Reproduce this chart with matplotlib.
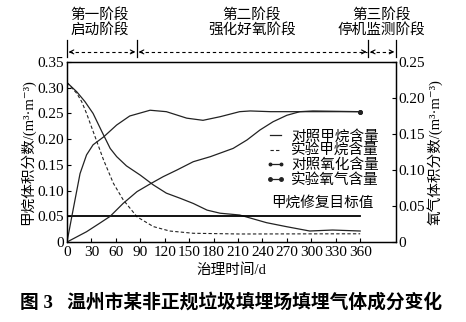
import matplotlib
matplotlib.use("Agg")
import matplotlib.pyplot as plt
import matplotlib.transforms as mtransforms
from matplotlib.lines import Line2D
from matplotlib.ticker import FuncFormatter, MultipleLocator

plt.rcParams['font.family'] = ['Liberation Serif', 'Noto Sans CJK SC', 'DejaVu Serif']
plt.rcParams['axes.unicode_minus'] = False

# 甲烷 (左轴)
ch4_ctrl_days = [0, 12, 22, 32, 43, 53, 61, 73, 90, 106, 122, 139, 155, 172, 188, 212, 245, 269, 298, 326, 360]
ch4_ctrl = [0.310, 0.292, 0.273, 0.250, 0.214, 0.182, 0.166, 0.148, 0.130, 0.111, 0.095, 0.085,
            0.075, 0.062, 0.056, 0.0525, 0.0376, 0.030, 0.0214, 0.0233, 0.0214]
ch4_exp_days = [0, 12, 18, 24, 30, 36, 45, 57, 69, 86, 106, 126, 155, 212, 280, 360]
ch4_exp = [0.310, 0.289, 0.273, 0.250, 0.224, 0.198, 0.159, 0.114, 0.082, 0.049, 0.030, 0.0214,
           0.017, 0.0156, 0.0158, 0.016]

# 氧气 (右轴)
o2_ctrl_days = [0, 24, 40, 53, 69, 86, 102, 118, 135, 155, 176, 204, 221, 237, 253, 270, 286, 302, 360]
o2_ctrl = [0, 0.0143, 0.026, 0.0357, 0.0537, 0.070, 0.0806, 0.0907, 0.100, 0.1115, 0.1185, 0.130,
           0.1417, 0.1556, 0.167, 0.176, 0.181, 0.182, 0.181]
o2_exp_days = [0, 6, 16, 24, 32, 45, 61, 77, 102, 122, 147, 167, 188, 212, 225, 250, 300, 360]
o2_exp = [0, 0.036, 0.095, 0.121, 0.135, 0.146, 0.1625, 0.175, 0.183, 0.181, 0.172, 0.169, 0.174,
          0.181, 0.182, 0.181, 0.181, 0.181]

target = 0.05
target_days = [0, 360]

stage_edges = [0, 86, 370, 404]
stage_names = ['第一阶段\n启动阶段', '第二阶段\n强化好氧阶段', '第三阶段\n停机监测阶段']
stage_text_x = [40, 227, 386]

fig = plt.figure(figsize=(4.66, 3.22), dpi=100)
ax = fig.add_axes([0.1438, 0.2484, 0.7060, 0.5591])
ax2 = ax.twinx()

lw = 0.9
ax.plot(ch4_ctrl_days, ch4_ctrl, color='#222222', lw=lw, ls='-')
ax.plot(ch4_exp_days, ch4_exp, color='#222222', lw=0.8, ls=(0, (3, 2)))
ax.plot(target_days, [target, target], color='black', lw=1.3)
ax2.plot(o2_ctrl_days, o2_ctrl, color='#222222', lw=lw, marker='o', ms=2.5, markevery=[-1])
ax2.plot(o2_exp_days, o2_exp, color='#222222', lw=lw, marker='o', ms=2.5, markevery=[-1])

ax.text(314, 0.0758, '甲烷修复目标值', fontsize=10.5, ha='center', va='center')

ax.set_xlim(0, 404)
ax.set_ylim(0, 0.35)
ax2.set_ylim(0, 0.25)
ax.set_xticks(range(0, 361, 30))
ax.yaxis.set_major_locator(MultipleLocator(0.05))
ax2.yaxis.set_major_locator(MultipleLocator(0.05))
fmt = FuncFormatter(lambda v, p: '0' if abs(v) < 1e-9 else '%.2f' % v)
ax.yaxis.set_major_formatter(fmt)
ax2.yaxis.set_major_formatter(fmt)
for a in (ax, ax2):
    a.tick_params(direction='in', length=3, width=0.8, labelsize=11, pad=2)
    for s in a.spines.values():
        s.set_linewidth(0.9)
ax.tick_params(axis='x', pad=3)

ax.set_xlabel('治理时间/d', fontsize=10.5, labelpad=3)
ax.set_ylabel('甲烷体积分数/(m³·m⁻³)', fontsize=10.5, labelpad=2)
ax2.set_ylabel('氧气体积分数/(m³·m⁻³)', fontsize=10.5, labelpad=1)

# 图例
handles = [
    Line2D([], [], color='#222222', lw=lw),
    Line2D([], [], color='#222222', lw=0.8, ls=(0, (3, 2))),
    Line2D([], [], color='#222222', lw=lw, marker='o', ms=1.8),
    Line2D([], [], color='#222222', lw=lw, marker='o', ms=2.5),
]
labels = ['对照甲烷含量', '实验甲烷含量', '对照氧化含量', '实验氧气含量']
ax.legend(handles, labels, loc='upper left', bbox_to_anchor=(0.571, 0.598),
          bbox_transform=fig.transFigure, frameon=False, fontsize=10.5, numpoints=2,
          handlelength=1.3, handletextpad=0.4, labelspacing=0.05, borderpad=0,
          borderaxespad=0)

# 阶段标注
trans = mtransforms.blended_transform_factory(ax.transData, ax.transAxes)
y_arrow = 1.056
for xe in stage_edges:
    ax.plot([xe, xe], [1.028, 1.122], transform=trans, color='black', lw=0.9, clip_on=False)
for i in range(3):
    x0, x1 = stage_edges[i] + 2, stage_edges[i + 1] - 2
    ax.plot([x0, x1], [y_arrow, y_arrow], transform=trans, color='black', lw=0.8,
            ls=(0, (3, 2.5)), clip_on=False)
    for xa, xb in ((x0, x0 + 4), (x1, x1 - 4)):
        ax.annotate('', xy=(xa, y_arrow), xytext=(xb, y_arrow), xycoords=trans,
                    arrowprops=dict(arrowstyle='->', lw=0.8, color='black',
                                    shrinkA=0, shrinkB=0, mutation_scale=7))
    ax.text(stage_text_x[i], 1.219, stage_names[i], transform=trans, fontsize=10.5,
            ha='center', va='center', multialignment='center', linespacing=1.1)

fig.text(0.496, 0.062, '图 3   温州市某非正规垃圾填埋场填埋气体成分变化', fontsize=13.5,
         fontweight='bold', ha='center', va='center')

fig.savefig('out.png', dpi=100)
